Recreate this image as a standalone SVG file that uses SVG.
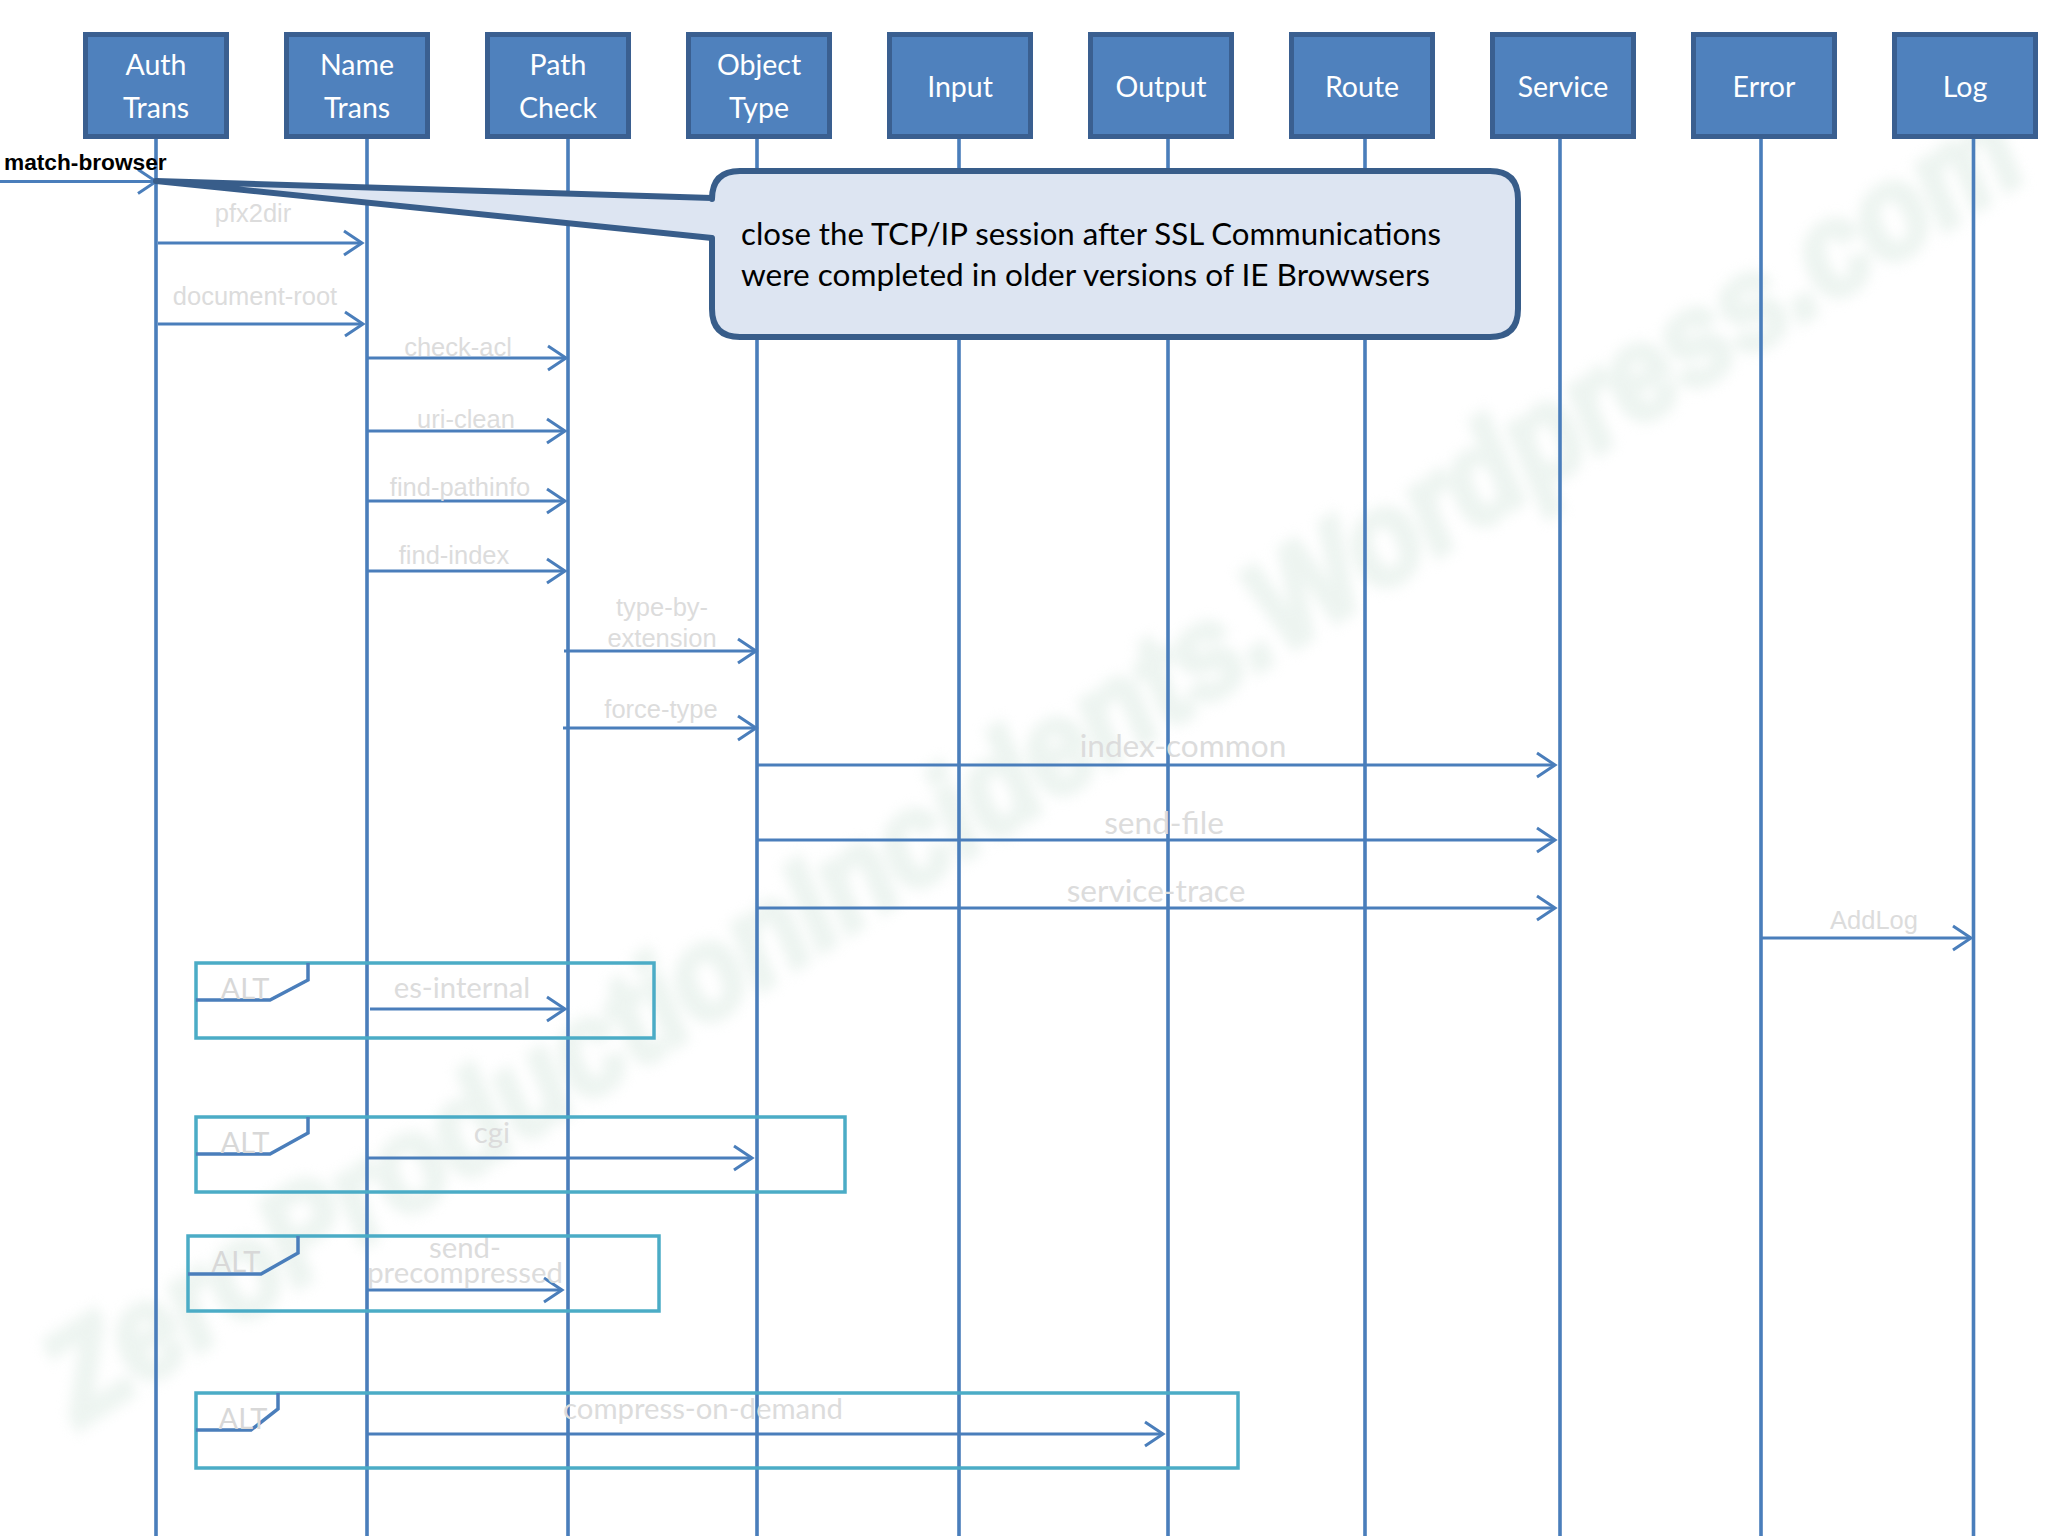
<svg xmlns="http://www.w3.org/2000/svg" width="2048" height="1536" viewBox="0 0 2048 1536">
<defs>
<style>
.box{fill:#4f81bd;stroke:#3a5f90;stroke-width:5}
.hd{font-family:Lato,"Open Sans",sans-serif;font-size:28.500px;fill:#fff;text-anchor:middle}
.life{stroke:#4a7ebb;stroke-width:3.600;fill:none}
.msg{stroke:#4a7ebb;stroke-width:3;fill:none;marker-end:url(#a)}
.lab{font-family:"Liberation Sans",Arial,sans-serif;font-size:25.500px;fill:#dcdcdc;text-anchor:middle}
.lab2{font-family:Lato,sans-serif;font-size:29.300px;fill:#dcdcdc;text-anchor:middle}
.lab3{font-family:Lato,sans-serif;font-size:31.600px;fill:#dcdcdc;text-anchor:middle}
.alt{fill:none;stroke:#4bacc6;stroke-width:3.500}
.tab{fill:none;stroke:#4a7ebb;stroke-width:3.500}
.alttext{font-family:Lato,sans-serif;font-size:29px;fill:#d8d8d8;text-anchor:middle}
.call{font-family:Lato,sans-serif;font-size:31px;fill:#000}
</style>
<marker id="a" markerUnits="userSpaceOnUse" markerWidth="24" markerHeight="28" refX="20" refY="12" orient="auto" overflow="visible"><path d="M2 0L20 12L2 24" fill="none" stroke="#4a7ebb" stroke-width="3"/></marker>
<filter id="b" x="-5%" y="-20%" width="110%" height="140%"><feGaussianBlur stdDeviation="6"/></filter>
</defs>
<rect width="2048" height="1536" fill="#fff"/>
<text transform="translate(80 1427) rotate(-32.700) scale(1 1.100)" font-family="Liberation Sans,sans-serif" font-weight="700" font-style="italic" font-size="118" fill="#e4efe9" stroke="#e4efe9" stroke-width="7" opacity=".65" filter="url(#b)">ZeroProductionIncidents.Wordpress.com</text>
<g id="connectors">
<path class="life" d="M156 139V1536M367 139V1536M568 139V1536M757 139V1536M959 139V1536M1168 139V1536M1365 139V1536M1560 139V1536M1761 139V1536M1973.500 139V1536"/>
<path class="msg" d="M0 181.500H156"/>
<path class="msg" d="M158 243H362"/>
<path class="msg" d="M158 324H363"/>
<path class="msg" d="M368 358H566"/>
<path class="msg" d="M368 431H565"/>
<path class="msg" d="M368 501H565"/>
<path class="msg" d="M368 571H565"/>
<path class="msg" d="M564 651H756"/>
<path class="msg" d="M563 728H756"/>
<path class="msg" d="M758 765H1555"/>
<path class="msg" d="M758 840H1555"/>
<path class="msg" d="M758 908H1555"/>
<path class="msg" d="M1761 938H1971"/>
<path class="msg" d="M370 1009H565"/>
<path class="msg" d="M367 1158H752"/>
<path class="msg" d="M367 1290H562"/>
<path class="msg" d="M367 1434H1163"/>
</g>
<g id="label-match"><text x="4" y="170" font-family="Liberation Sans,sans-serif" font-weight="700" font-size="22.700" fill="#000">match-browser</text></g>
<g id="labels">
<text class="lab" x="253" y="222">pfx2dir</text>
<text class="lab" x="255" y="305">document-root</text>
<text class="lab" x="458" y="356">check-acl</text>
<text class="lab" x="466" y="428">uri-clean</text>
<text class="lab" x="460" y="496">find-pathinfo</text>
<text class="lab" x="454" y="564">find-index</text>
<text class="lab" x="662" y="616">type-by-</text>
<text class="lab" x="662" y="647">extension</text>
<text class="lab" x="661" y="718">force-type</text>
<text class="lab3" x="1183" y="757">index-common</text>
<text class="lab3" x="1164" y="834">send-file</text>
<text class="lab3" x="1156" y="902">service-trace</text>
<text class="lab" x="1874" y="929">AddLog</text>
<text class="lab2" x="462" y="998">es-internal</text>
<text class="lab2" x="492" y="1143">cgi</text>
<text class="lab2" x="465" y="1258">send-</text>
<text class="lab2" x="465" y="1283">precompressed</text>
<text class="lab2" x="703" y="1419">compress-on-demand</text>
</g>
<g id="alt-1"><rect class="alt" x="196" y="963" width="458" height="75"/><path class="tab" d="M196 1000H270L308 980V963"/><text class="alttext" x="245" y="999">ALT</text></g>
<g id="alt-2"><rect class="alt" x="196" y="1117" width="649" height="75"/><path class="tab" d="M196 1154H270L308 1133V1117"/><text class="alttext" x="245" y="1153">ALT</text></g>
<g id="alt-3"><rect class="alt" x="188" y="1236" width="471" height="75"/><path class="tab" d="M188 1274H261L298 1253V1236"/><text class="alttext" x="236" y="1272">ALT</text></g>
<g id="alt-4"><rect class="alt" x="196" y="1393" width="1042" height="75"/><path class="tab" d="M196 1430H251L278 1409V1393"/><text class="alttext" x="243" y="1429">ALT</text></g>
<g id="auth-trans"><rect class="box" x="85.500" y="34.500" width="141" height="102"/><text class="hd" x="156" y="75">Auth</text><text class="hd" x="156" y="118">Trans</text></g>
<g id="name-trans"><rect class="box" x="286.500" y="34.500" width="141" height="102"/><text class="hd" x="357" y="75">Name</text><text class="hd" x="357" y="118">Trans</text></g>
<g id="path-check"><rect class="box" x="487.500" y="34.500" width="141" height="102"/><text class="hd" x="558" y="75">Path</text><text class="hd" x="558" y="118">Check</text></g>
<g id="object-type"><rect class="box" x="688.500" y="34.500" width="141" height="102"/><text class="hd" x="759" y="75">Object</text><text class="hd" x="759" y="118">Type</text></g>
<g id="input"><rect class="box" x="889.500" y="34.500" width="141" height="102"/><text class="hd" x="960" y="97">Input</text></g>
<g id="output"><rect class="box" x="1090.500" y="34.500" width="141" height="102"/><text class="hd" x="1161" y="97">Output</text></g>
<g id="route"><rect class="box" x="1291.500" y="34.500" width="141" height="102"/><text class="hd" x="1362" y="97">Route</text></g>
<g id="service"><rect class="box" x="1492.500" y="34.500" width="141" height="102"/><text class="hd" x="1563" y="97">Service</text></g>
<g id="error"><rect class="box" x="1693.500" y="34.500" width="141" height="102"/><text class="hd" x="1764" y="97">Error</text></g>
<g id="log"><rect class="box" x="1894.500" y="34.500" width="141" height="102"/><text class="hd" x="1965" y="97">Log</text></g>
<g id="callout">
<path d="M156 181L712 198V199Q712 171 740 171H1490Q1518 171 1518 199V309Q1518 337 1490 337H740Q712 337 712 309V238Z" fill="#dde5f2" stroke="#385d8a" stroke-width="6" stroke-linejoin="round"/>
<text class="call" x="741" y="245" textLength="700" lengthAdjust="spacingAndGlyphs">close the TCP/IP session after SSL Communications</text>
<text class="call" x="741" y="286" textLength="689" lengthAdjust="spacingAndGlyphs">were completed in older versions of IE Browwsers</text>
</g>
</svg>
